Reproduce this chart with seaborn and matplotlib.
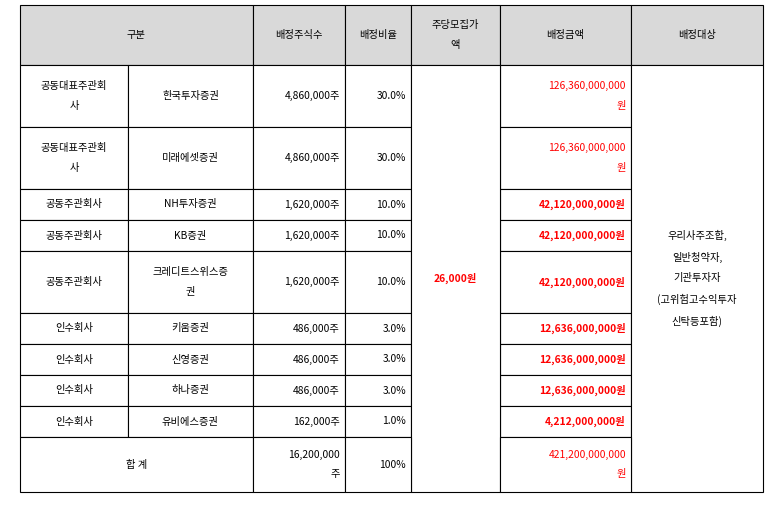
import matplotlib
matplotlib.use("Agg")
import matplotlib.pyplot as plt
from matplotlib import font_manager
import seaborn as sns

cjk = [f.name for f in font_manager.fontManager.ttflist if "CJK" in f.name]
fam = ["Noto Sans CJK KR", "Noto Sans CJK JP", "Noto Sans CJK SC"] + cjk + ["DejaVu Sans"]
sns.set_theme(style="white")
plt.rcParams["font.family"] = fam

headers = ["구분", "배정주식수", "배정비율", "주당모집가\n액", "배정금액", "배정대상"]
roles = ["공동대표주관회\n사", "공동대표주관회\n사", "공동주관회사", "공동주관회사", "공동주관회사",
         "인수회사", "인수회사", "인수회사", "인수회사"]
firms = ["한국투자증권", "미래에셋증권", "NH투자증권", "KB증권", "크레디트스위스증\n권",
         "키움증권", "신영증권", "하나증권", "유비에스증권"]
shares = ["4,860,000주", "4,860,000주", "1,620,000주", "1,620,000주", "1,620,000주",
          "486,000주", "486,000주", "486,000주", "162,000주"]
ratios = ["30.0%", "30.0%", "10.0%", "10.0%", "10.0%", "3.0%", "3.0%", "3.0%", "1.0%"]
amounts = ["126,360,000,000\n원", "126,360,000,000\n원", "42,120,000,000원", "42,120,000,000원",
           "42,120,000,000원", "12,636,000,000원", "12,636,000,000원", "12,636,000,000원",
           "4,212,000,000원"]
amount_bold = [False, False, True, True, True, True, True, True, True]
price = "26,000원"
target = "우리사주조합,\n일반청약자,\n기관투자자\n(고위험고수익투자\n신탁등포함)"
total_label = "합 계"
total_shares = "16,200,000\n주"
total_ratio = "100%"
total_amount = "421,200,000,000\n원"

W, H = 778, 513
fig = plt.figure(figsize=(W / 100, H / 100), dpi=100)
ax = fig.add_axes([0, 0, 1, 1])
ax.set_xlim(0, W)
ax.set_ylim(H, 0)
ax.axis("off")

xs = [20, 128, 253, 345, 411, 500, 631, 763]
ys = [5, 65, 127, 189, 220, 251, 313, 344, 375, 406, 437, 492]
fs = 7.4
lc = "black"
lw = 0.8
RED = "#ff0000"

def rect(x0, y0, x1, y1, fc="white"):
    ax.add_patch(plt.Rectangle((x0, y0), x1 - x0, y1 - y0, facecolor=fc, edgecolor=lc, lw=lw))

def txt(x0, y0, x1, y1, s, ha="center", color="black", bold=False):
    x = (x0 + x1) / 2 if ha == "center" else x1 - 5
    ax.text(x, (y0 + y1) / 2, s, ha=ha, va="center", fontsize=fs, color=color,
            fontweight="bold" if bold else "normal", linespacing=2.2, multialignment=ha)

hcols = [(0, 2), (2, 3), (3, 4), (4, 5), (5, 6), (6, 7)]
for (a, b), h in zip(hcols, headers):
    rect(xs[a], ys[0], xs[b], ys[1], fc="#d9d9d9")
    txt(xs[a], ys[0], xs[b], ys[1], h)

for i in range(9):
    y0, y1 = ys[i + 1], ys[i + 2]
    rect(xs[0], y0, xs[1], y1); txt(xs[0], y0, xs[1], y1, roles[i])
    rect(xs[1], y0, xs[2], y1); txt(xs[1], y0, xs[2], y1, firms[i])
    rect(xs[2], y0, xs[3], y1); txt(xs[2], y0, xs[3], y1, shares[i], ha="right")
    rect(xs[3], y0, xs[4], y1); txt(xs[3], y0, xs[4], y1, ratios[i], ha="right")
    rect(xs[5], y0, xs[6], y1); txt(xs[5], y0, xs[6], y1, amounts[i], ha="right", color=RED, bold=amount_bold[i])

rect(xs[4], ys[1], xs[5], ys[11]); txt(xs[4], ys[1], xs[5], ys[11], price, color=RED, bold=True)
rect(xs[6], ys[1], xs[7], ys[11]); txt(xs[6], ys[1], xs[7], ys[11], target)

y0, y1 = ys[10], ys[11]
rect(xs[0], y0, xs[2], y1); txt(xs[0], y0, xs[2], y1, total_label)
rect(xs[2], y0, xs[3], y1); txt(xs[2], y0, xs[3], y1, total_shares, ha="right")
rect(xs[3], y0, xs[4], y1); txt(xs[3], y0, xs[4], y1, total_ratio, ha="right")
rect(xs[5], y0, xs[6], y1); txt(xs[5], y0, xs[6], y1, total_amount, ha="right", color=RED)

fig.savefig("out.png", dpi=100)
